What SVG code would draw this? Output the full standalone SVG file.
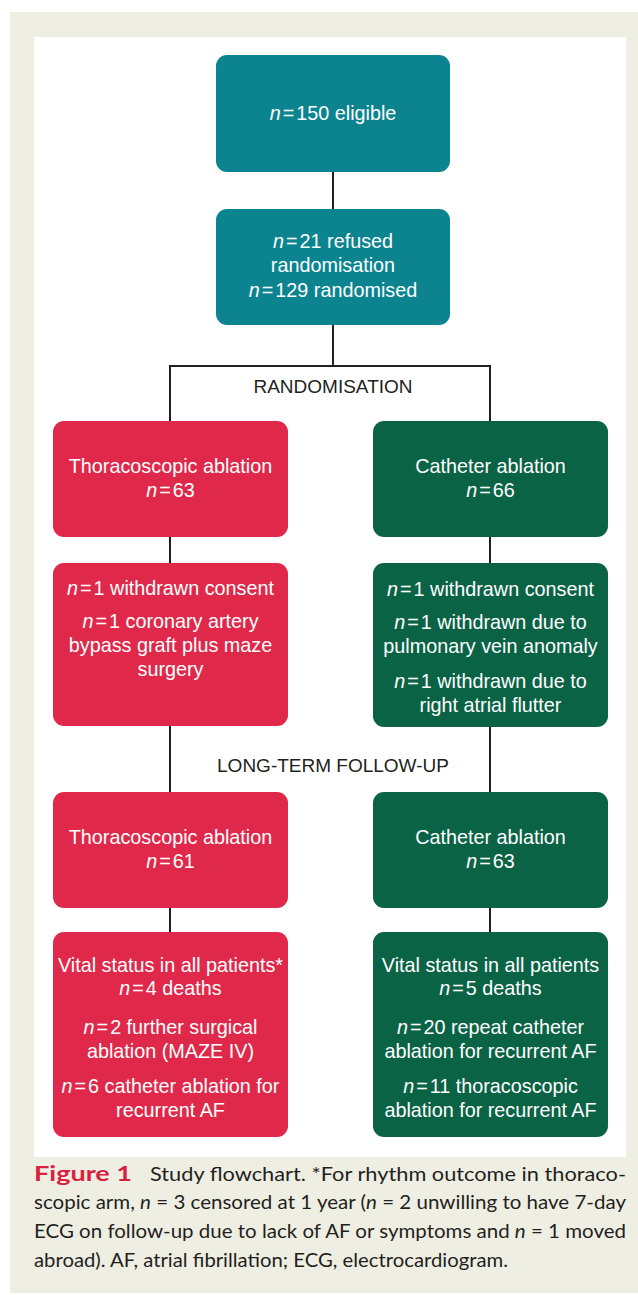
<svg xmlns="http://www.w3.org/2000/svg" width="638" height="1295" viewBox="0 0 638 1295">
<style>
.bt{font-family:"Liberation Sans",Arial,sans-serif;font-size:19.8px;fill:#ffffff;text-anchor:middle}
.lb{font-family:"Liberation Sans",Arial,sans-serif;font-size:19px;fill:#231f20;text-anchor:middle}
.i{font-style:italic}
.teal{fill:#0b8490}
.red{fill:#e0294a}
.green{fill:#0b6346}
.con{stroke:#231f20;stroke-width:2;fill:none}
.cap{font-family:Lato,"Open Sans",sans-serif;font-size:19px;fill:#231f20}
</style>
<rect x="10" y="12" width="628" height="1281" fill="#efeee3"/>
<rect x="34" y="37" width="592" height="1120" fill="#ffffff"/>
<g id="connectors">
<path class="con" d="M333,172 V209"/>
<path class="con" d="M333,325 V366"/>
<path class="con" d="M170,421 V366 H490 V421"/>
<path class="con" d="M170,537 V563"/>
<path class="con" d="M490,537 V563"/>
<path class="con" d="M170,726 V792"/>
<path class="con" d="M490,727 V792"/>
<path class="con" d="M170,908 V932"/>
<path class="con" d="M490,908 V932"/>
</g>
<g id="label-randomisation"><text class="lb" x="333" y="393">RANDOMISATION</text></g>
<g id="label-followup"><text class="lb" x="333" y="772">LONG-TERM FOLLOW-UP</text></g>
<g id="eligible">
<rect class="teal" x="216" y="55" width="234" height="117" rx="11"/>
<text class="bt" x="333" y="120"><tspan class="i">n</tspan><tspan dx="2">=</tspan><tspan dx="2">150 eligible</tspan></text>
</g>
<g id="randomised">
<rect class="teal" x="216" y="209" width="234" height="116" rx="11"/>
<text class="bt" x="333" y="248"><tspan class="i">n</tspan><tspan dx="2">=</tspan><tspan dx="2">21 refused</tspan></text>
<text class="bt" x="333" y="272">randomisation</text>
<text class="bt" x="333" y="297"><tspan class="i">n</tspan><tspan dx="2">=</tspan><tspan dx="2">129 randomised</tspan></text>
</g>
<g id="thoraco1">
<rect class="red" x="53" y="421" width="235" height="116" rx="11"/>
<text class="bt" x="170.5" y="473">Thoracoscopic ablation</text>
<text class="bt" x="170.5" y="497"><tspan class="i">n</tspan><tspan dx="2">=</tspan><tspan dx="2">63</tspan></text>
</g>
<g id="catheter1">
<rect class="green" x="373" y="421" width="235" height="116" rx="11"/>
<text class="bt" x="490.5" y="473">Catheter ablation</text>
<text class="bt" x="490.5" y="497"><tspan class="i">n</tspan><tspan dx="2">=</tspan><tspan dx="2">66</tspan></text>
</g>
<g id="thoraco-withdrawn">
<rect class="red" x="53" y="563" width="235" height="163" rx="11"/>
<text class="bt" x="170.5" y="595"><tspan class="i">n</tspan><tspan dx="2">=</tspan><tspan dx="2">1 withdrawn consent</tspan></text>
<text class="bt" x="170.5" y="628"><tspan class="i">n</tspan><tspan dx="2">=</tspan><tspan dx="2">1 coronary artery</tspan></text>
<text class="bt" x="170.5" y="652">bypass graft plus maze</text>
<text class="bt" x="170.5" y="676">surgery</text>
</g>
<g id="catheter-withdrawn">
<rect class="green" x="373" y="563" width="235" height="164" rx="11"/>
<text class="bt" x="490.5" y="596"><tspan class="i">n</tspan><tspan dx="2">=</tspan><tspan dx="2">1 withdrawn consent</tspan></text>
<text class="bt" x="490.5" y="629"><tspan class="i">n</tspan><tspan dx="2">=</tspan><tspan dx="2">1 withdrawn due to</tspan></text>
<text class="bt" x="490.5" y="653">pulmonary vein anomaly</text>
<text class="bt" x="490.5" y="688"><tspan class="i">n</tspan><tspan dx="2">=</tspan><tspan dx="2">1 withdrawn due to</tspan></text>
<text class="bt" x="490.5" y="712">right atrial flutter</text>
</g>
<g id="thoraco2">
<rect class="red" x="53" y="792" width="235" height="116" rx="11"/>
<text class="bt" x="170.5" y="844">Thoracoscopic ablation</text>
<text class="bt" x="170.5" y="868"><tspan class="i">n</tspan><tspan dx="2">=</tspan><tspan dx="2">61</tspan></text>
</g>
<g id="catheter2">
<rect class="green" x="373" y="792" width="235" height="116" rx="11"/>
<text class="bt" x="490.5" y="844">Catheter ablation</text>
<text class="bt" x="490.5" y="868"><tspan class="i">n</tspan><tspan dx="2">=</tspan><tspan dx="2">63</tspan></text>
</g>
<g id="thoraco-outcome">
<rect class="red" x="53" y="932" width="235" height="205" rx="11"/>
<text class="bt" x="170.5" y="972">Vital status in all patients*</text>
<text class="bt" x="170.5" y="995"><tspan class="i">n</tspan><tspan dx="2">=</tspan><tspan dx="2">4 deaths</tspan></text>
<text class="bt" x="170.5" y="1034"><tspan class="i">n</tspan><tspan dx="2">=</tspan><tspan dx="2">2 further surgical</tspan></text>
<text class="bt" x="170.5" y="1058">ablation (MAZE IV)</text>
<text class="bt" x="170.5" y="1093"><tspan class="i">n</tspan><tspan dx="2">=</tspan><tspan dx="2">6 catheter ablation for</tspan></text>
<text class="bt" x="170.5" y="1117">recurrent AF</text>
</g>
<g id="catheter-outcome">
<rect class="green" x="373" y="932" width="235" height="205" rx="11"/>
<text class="bt" x="490.5" y="972">Vital status in all patients</text>
<text class="bt" x="490.5" y="995"><tspan class="i">n</tspan><tspan dx="2">=</tspan><tspan dx="2">5 deaths</tspan></text>
<text class="bt" x="490.5" y="1034"><tspan class="i">n</tspan><tspan dx="2">=</tspan><tspan dx="2">20 repeat catheter</tspan></text>
<text class="bt" x="490.5" y="1058">ablation for recurrent AF</text>
<text class="bt" x="490.5" y="1093"><tspan class="i">n</tspan><tspan dx="2">=</tspan><tspan dx="2">11 thoracoscopic</tspan></text>
<text class="bt" x="490.5" y="1117">ablation for recurrent AF</text>
</g>
<g id="caption">
<text x="34" y="1181" font-family="Lato,'Open Sans',sans-serif" font-size="21" font-weight="bold" fill="#d9213f" textLength="98" lengthAdjust="spacingAndGlyphs">Figure 1</text>
<text class="cap" x="150" y="1181" textLength="476" lengthAdjust="spacingAndGlyphs">Study flowchart. *For rhythm outcome in thoraco-</text>
<text class="cap" x="34" y="1209" textLength="592" lengthAdjust="spacingAndGlyphs">scopic arm, <tspan class="i">n</tspan> = 3 censored at 1 year (<tspan class="i">n</tspan> = 2 unwilling to have 7-day</text>
<text class="cap" x="34" y="1238" textLength="592" lengthAdjust="spacingAndGlyphs">ECG on follow-up due to lack of AF or symptoms and <tspan class="i">n</tspan> = 1 moved</text>
<text class="cap" x="34" y="1267" textLength="474" lengthAdjust="spacingAndGlyphs">abroad). AF, atrial fibrillation; ECG, electrocardiogram.</text>
</g>
</svg>
